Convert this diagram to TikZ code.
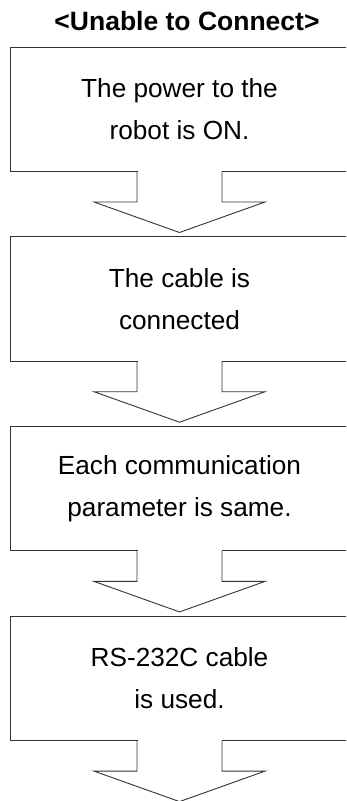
\documentclass[tikz,border=0pt]{standalone}
\usepackage{fontspec}
\setmainfont{Liberation Sans}
\usetikzlibrary{positioning}

\begin{document}
\begin{tikzpicture}[x=1pt, y=-1pt,
      every node/.style={inner sep=0pt, outer sep=0pt},
      stepbox/.style={draw=black!80, line width=0.9pt, minimum width=339pt,
        minimum height=124.5pt, align=center,
        font=\fontsize{26.2}{42}\selectfont},
      headline/.style={font=\fontsize{26.5}{30}\selectfont\bfseries},
      blockarrow/.style={draw=black!80, line width=0.9pt, line join=miter}
    ]
  \useasboundingbox (0,0) rectangle (346,801);
  \clip (0,0) rectangle (346,801);

  % --- Titel ---
  \node[headline, anchor=base] (head) at (187,30.5) {<Unable to Connect>};

  % --- Pruefschritte ---
  \node[stepbox, anchor=north west] (power) at (10,47) {The power to the\\robot is ON.};
  \node[stepbox, below=65.2pt of power] (cable) {The cable is\\connected};
  \node[stepbox, below=65.2pt of cable] (param) {Each communication\\parameter is same.};
  \node[stepbox, below=65.2pt of param] (rs) {RS-232C cable\\is used.};

  % Blockpfeile unter jedem Kasten
  \foreach \b in {power,cable,param,rs} {
    \fill[white] ([xshift=-42pt, yshift=1pt]\b.south) rectangle ([xshift=42pt, yshift=-1pt]\b.south);
    \draw[blockarrow] ([xshift=-42.5pt]\b.south) -- ++(0,30.5) -- ++(-43,0)
      -- ++(85.5,30.5) -- ++(85.5,-30.5) -- ++(-43,0) -- ++(0,-30.5);
  }
\end{tikzpicture}
\end{document}
